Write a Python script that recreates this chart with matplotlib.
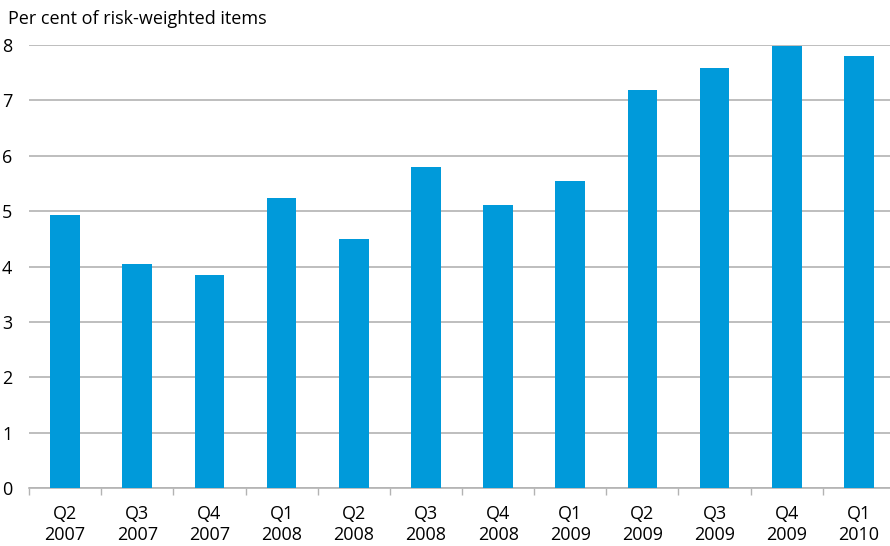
import matplotlib.pyplot as plt

quarters = ["Q2", "Q3", "Q4", "Q1", "Q2", "Q3", "Q4", "Q1", "Q2", "Q3", "Q4", "Q1"]
years = ["2007", "2007", "2007", "2008", "2008", "2008", "2008", "2009", "2009", "2009", "2009", "2010"]
values = [4.93, 4.04, 3.85, 5.23, 4.49, 5.79, 5.11, 5.54, 7.18, 7.58, 7.98, 7.80]

plt.rcParams['font.family'] = ['Open Sans', 'DejaVu Sans']

fig = plt.figure(figsize=(8.9, 5.46), dpi=100)
ax = fig.add_axes([0.0326, 0.1062, 0.973, 0.8114])

x = range(len(values))
ax.bar(x, values, width=0.41, color='#009ADA', zorder=3)

ax.set_xlim(-0.5, len(values) - 0.5)
ax.set_ylim(0, 8)
ax.set_yticks(range(0, 9))
ax.yaxis.grid(True, color='#B3B3B3', linewidth=1.2, zorder=0)
ax.tick_params(axis='y', length=0, labelsize=13, pad=12)

# etiquettes sur deux lignes
ax.set_xticks(list(x))
ax.set_xticklabels([q + "\n" + a for q, a in zip(quarters, years)], fontsize=13, linespacing=1.25)
ax.set_xticks([i - 0.5 for i in range(len(values) + 1)], minor=True)
ax.tick_params(axis='x', which='major', length=0, pad=12)
ax.tick_params(axis='x', which='minor', length=5, color='#B3B3B3', width=1)

for s in ['top', 'right', 'left']:
    ax.spines[s].set_visible(False)
ax.spines['bottom'].set_color('#B3B3B3')
ax.spines['bottom'].set_linewidth(1.2)

fig.text(0.009, 0.965, "Per cent of risk-weighted items", fontsize=13, va='center', ha='left')

fig.savefig("out.png", dpi=100)
